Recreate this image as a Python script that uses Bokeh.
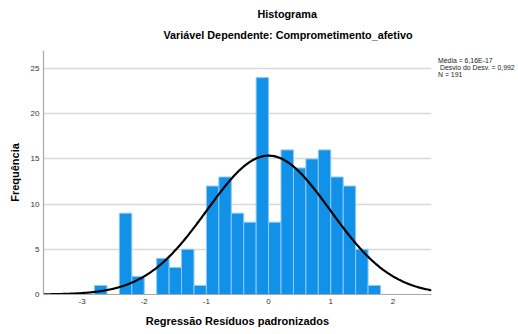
import numpy as np
from bokeh.plotting import figure
from bokeh.models import (Range1d, FixedTicker, ColumnDataSource, PrintfTickFormatter,
                          Title, Legend, LegendItem)
from bokeh.embed import file_html
from bokeh.resources import INLINE

# Data
bin_left = [-2.8, -2.6, -2.4, -2.2, -2.0, -1.8, -1.6, -1.4, -1.2, -1.0, -0.8, -0.6,
            -0.4, -0.2, 0.0, 0.2, 0.4, 0.6, 0.8, 1.0, 1.2, 1.4, 1.6]
bin_width = 0.2
counts = [1, 0, 9, 2, 0, 4, 3, 5, 1, 12, 13, 9, 8, 24, 8, 16, 14, 15, 16, 13, 12, 5, 1]
mean_val = 6.16e-17
std_val = 0.992
n_val = 191
x_ticks = [-3, -2, -1, 0, 1, 2]
y_ticks = [0, 5, 10, 15, 20, 25]
legend_lines = ["Média = 6,16E-17", " Desvio do Desv. = 0,992", "N = 191"]

FONT = "Liberation Sans"

src = ColumnDataSource(dict(
    left=bin_left,
    right=[b + bin_width for b in bin_left],
    top=counts,
    bottom=[0] * len(counts),
))

xmin, xmax = -3.62, 2.62
xs = np.linspace(xmin, xmax, 400)
ys = n_val * bin_width * np.exp(-0.5 * ((xs - mean_val) / std_val) ** 2) / (std_val * np.sqrt(2 * np.pi))

p = figure(output_backend="svg", toolbar_location=None,
           frame_width=388, frame_height=244,
           min_border_left=43, min_border_right=82, min_border_top=50, min_border_bottom=34,
           x_range=Range1d(xmin, xmax), y_range=Range1d(0, 27))
p.outline_line_color = None
p.background_fill_color = "white"
p.border_fill_color = "white"

p.quad(left="left", right="right", top="top", bottom="bottom", source=src,
       fill_color="#1192e8", line_color="#8ccaf5", line_width=1)
p.line(xs, ys, line_color="black", line_width=2.2)

p.xgrid.visible = False
p.ygrid.grid_line_color = "#d9d9d9"
p.ygrid.grid_line_width = 1.5
p.ygrid.ticker = FixedTicker(ticks=y_ticks)

p.xaxis.ticker = FixedTicker(ticks=x_ticks)
p.yaxis.ticker = FixedTicker(ticks=y_ticks)
p.xaxis.formatter = PrintfTickFormatter(format="%d")
p.yaxis.formatter = PrintfTickFormatter(format="%d")
for ax in (p.xaxis, p.yaxis):
    ax.axis_line_color = "#a8a8a8"
    ax.axis_line_width = 1.2
    ax.major_tick_line_color = None
    ax.minor_tick_line_color = None
    ax.major_tick_out = 0
    ax.major_tick_in = 0
    ax.minor_tick_out = 0
    ax.minor_tick_in = 0
    ax.major_label_text_font = FONT
    ax.major_label_text_font_size = "8px"
    ax.major_label_text_color = "#333333"
    ax.axis_label_text_font = FONT
    ax.axis_label_text_font_size = "11px"
    ax.axis_label_text_font_style = "bold"
    ax.axis_label_text_color = "black"

p.xaxis.axis_label = "Regressão Resíduos padronizados"
p.yaxis.axis_label = "Frequência"
p.xaxis.major_label_standoff = 4
p.xaxis.axis_label_standoff = 8
p.yaxis.major_label_standoff = 4
p.yaxis.axis_label_standoff = 7

# Titles: the first one added sits closest to the plot frame
p.add_layout(Title(text="Variável Dependente: Comprometimento_afetivo", align="left",
                   offset=120, standoff=18, vertical_align="middle",
                   text_font=FONT, text_font_size="10.8px", text_font_style="bold",
                   text_color="black"), "above")
p.add_layout(Title(text="Histograma", align="left", offset=214, standoff=-5,
                   vertical_align="middle",
                   text_font=FONT, text_font_size="10.8px", text_font_style="bold",
                   text_color="black"), "above")

# Stats box as a legend with invisible glyphs
dummy = p.scatter(x=[], y=[], size=0, fill_alpha=0, line_alpha=0)
legend = Legend(items=[LegendItem(label=t, renderers=[dummy]) for t in legend_lines],
                location=(0, 216), orientation="vertical",
                margin=0, padding=0, spacing=0,
                glyph_width=0, glyph_height=6, label_height=6, label_standoff=7,
                label_text_font=FONT, label_text_font_size="6.9px",
                label_text_line_height=1.0, label_text_color="#222222",
                border_line_color=None, background_fill_alpha=0)
p.add_layout(legend, "right")

open("out.html", "w").write(file_html(p, INLINE))
